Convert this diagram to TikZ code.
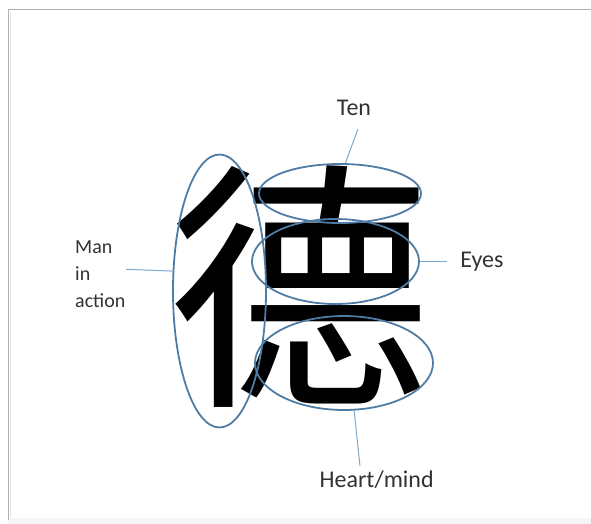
\documentclass[tikz,border=0pt]{standalone}
\usepackage{fontspec}
\setmainfont{Carlito}
\newfontfamily\cjk{Noto Sans CJK SC}
\usetikzlibrary{shapes.geometric}
\definecolor{ringblue}{RGB}{79,124,164}
\definecolor{leadblue}{RGB}{125,168,208}
\definecolor{labelgray}{RGB}{50,50,50}

\begin{document}
\begin{tikzpicture}[x=1pt,y=-1pt,
 ring/.style={ellipse,draw=ringblue,line width=1.8pt,inner sep=0pt},
 lead/.style={draw=leadblue,line width=1pt},
 lbl/.style={text=labelgray,font=\fontsize{24}{24}\selectfont,inner sep=0pt}]
\useasboundingbox (0,0) rectangle (591,524);
% frame of the slide
\fill[gray!8] (8,518) rectangle (591,524);
\draw[gray!20,line width=1.5pt] (10.5,12) -- (10.5,517);
\draw[gray!60,line width=1.2pt] (8.5,520) -- (8.5,9.5) -- (591,9.5);
% the character
\node[inner sep=0pt,font=\cjk\fontsize{262}{262}\selectfont] (de) at (299,287) {德};
% parts
\node[ring,minimum width=93pt,minimum height=273pt] (man) at (219.5,291) {};
\node[ring,minimum width=162pt,minimum height=59pt] (ten) at (340,193.5) {};
\node[ring,minimum width=167pt,minimum height=85pt] (eyes) at (335.5,261.5) {};
\node[ring,minimum width=178pt,minimum height=94pt] (heart) at (344,363) {};
% labels
\node[lbl,anchor=base] (tenlbl) at (354,115) {Ten};
\node[lbl,anchor=base] (eyeslbl) at (482,267.4) {Eyes};
\node[lbl,anchor=base] (heartlbl) at (376.7,487.3) {Heart/mind};
\node[lbl,font=\fontsize{20}{26.8}\selectfont,align=left,anchor=base west] (manlbl) at (75,307) {Man\\in\\action};
\coordinate (tentip) at (358,129);
\coordinate (eyestip) at (447,261.5);
\coordinate (hearttip) at (360,466);
\coordinate (mantip) at (126,269.3);
\draw[lead] (ten.80) -- (tentip);
\draw[lead] (eyes.east) -- (eyestip);
\draw[lead] (heart.-78) -- (hearttip);
\draw[lead] (man.157) -- (mantip);
\end{tikzpicture}
\end{document}
